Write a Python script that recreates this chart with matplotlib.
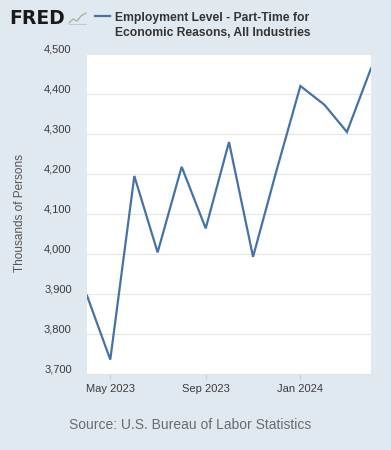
import matplotlib
matplotlib.use('Agg')
import matplotlib.pyplot as plt
import matplotlib.dates as mdates
from matplotlib.lines import Line2D
from matplotlib.transforms import ScaledTranslation
import pandas as pd

months = pd.date_range('2023-04-01', '2024-04-01', freq='MS')
values = [3896, 3736, 4195, 4004, 4218, 4064, 4280, 3993, 4207, 4420, 4373, 4305, 4464]
y_ticks = [3700, 3800, 3900, 4000, 4100, 4200, 4300, 4400, 4500]
x_ticks = pd.to_datetime(['2023-05-01', '2023-09-01', '2024-01-01'])
x_labels = ['May 2023', 'Sep 2023', 'Jan 2024']

title_lines = ['Employment Level - Part-Time for', 'Economic Reasons, All Industries']
y_label = 'Thousands of Persons'
source = 'Source: U.S. Bureau of Labor Statistics'

BG = '#e1e9f0'
LINE = '#4572a7'

plt.rcParams['font.family'] = ['Liberation Sans', 'DejaVu Sans']

fig = plt.figure(figsize=(3.91, 4.5), dpi=100, facecolor=BG)
ax = fig.add_axes([87 / 391, 76 / 450, 284 / 391, 320 / 450])
ax.set_facecolor('white')

ax.plot(months, values, color=LINE, linewidth=1.6, solid_joinstyle='miter')

ax.set_xlim(months[0], months[-1])
ax.set_ylim(3700, 4500)
ax.set_yticks(y_ticks)
ax.set_yticklabels(['{:,}'.format(v) for v in y_ticks])
ax.set_xticks(x_ticks)
ax.set_xticklabels(x_labels)

ax.grid(axis='y', color='#e6e6e6', linewidth=0.8)
ax.set_axisbelow(True)
for s in ['top', 'right', 'left']:
    ax.spines[s].set_visible(False)
ax.spines['bottom'].set_color('#dfe3e8')
ax.spines['bottom'].set_linewidth(0.8)

ax.tick_params(axis='y', length=0, pad=11, labelsize=8, labelcolor='#3a3a3a')
ax.tick_params(axis='x', length=4, width=0.8, color='#c8d0d8', pad=3,
               labelsize=8, labelcolor='#3a3a3a')

# FRED puts the y labels a bit above the grid lines
shift = ScaledTranslation(0, 5.5 / 100, fig.dpi_scale_trans)
for t in ax.yaxis.get_major_ticks():
    t.label1.set_transform(t.label1.get_transform() + shift)

fig.text(20 / 391, 1 - 213 / 450, y_label, rotation=90, ha='center', va='center',
         fontsize=8.5, color='#555555')

# header: logo, legend line and series title
fig.text(9 / 391, 1 - 24.5 / 450, 'FRED', fontsize=13.5, fontweight='bold',
         family='DejaVu Sans', color='#1a1a1a', ha='left', va='baseline')
icon_x = [69, 73, 77, 81, 86]
icon_y = [23, 19, 21, 16, 13]
fig.add_artist(Line2D([x / 391 for x in icon_x], [1 - y / 450 for y in icon_y],
                      color='#9db59a', linewidth=0.9))
fig.add_artist(Line2D([69 / 391, 86 / 391], [1 - 24 / 450, 1 - 24 / 450],
                      color='#b8c4c8', linewidth=0.6))
fig.add_artist(Line2D([95 / 391, 110 / 391], [1 - 16 / 450, 1 - 16 / 450],
                      color=LINE, linewidth=1.6))
fig.text(115 / 391, 1 - 21 / 450, title_lines[0], fontsize=8.7, fontweight='bold',
         color='#333333', ha='left', va='baseline')
fig.text(115 / 391, 1 - 36 / 450, title_lines[1], fontsize=8.7, fontweight='bold',
         color='#333333', ha='left', va='baseline')

fig.text(69 / 391, 1 - 429 / 450, source, fontsize=10, color='#6b6b6b',
         ha='left', va='baseline')

fig.savefig('out.png', dpi=100, facecolor=BG)
